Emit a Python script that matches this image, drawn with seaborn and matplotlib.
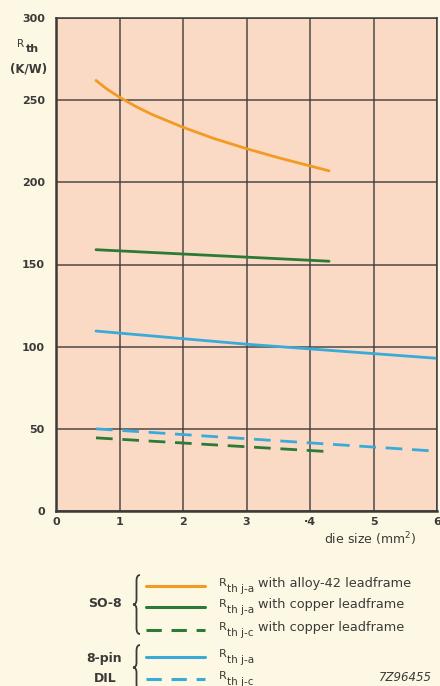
import matplotlib
matplotlib.use("Agg")
import matplotlib.pyplot as plt
from matplotlib.lines import Line2D
from matplotlib.path import Path
from matplotlib.patches import PathPatch
import pandas as pd
import seaborn as sns

# Thermal resistance vs die size
alloy_ja_x = [0.63, 0.8, 1.0, 1.25, 1.5, 2.0, 2.5, 3.0, 3.5, 4.0, 4.3]
alloy_ja_y = [262, 256.8, 251.8, 246.3, 241.5, 233.5, 226.5, 220.5, 215,
              210, 207]
copper_ja_x = [0.63, 4.3]
copper_ja_y = [159, 152]
copper_jc_x = [0.63, 4.35]
copper_jc_y = [44.5, 36]
dil_ja_x = [0.63, 3.0, 5.97]
dil_ja_y = [109.5, 101.5, 93]
dil_jc_x = [0.63, 5.95]
dil_jc_y = [50, 36.5]

x_ticks = [0, 1, 2, 3, 4, 5, 6]
x_tick_labels = ["0", "1", "2", "3", "·4", "5", "6"]
y_ticks = [0, 50, 100, 150, 200, 250, 300]

ORANGE = "#F29A22"
GREEN = "#2B7A35"
BLUE = "#3AAAD8"
INK = "#3c3a38"
PAPER = "#FCF8E4"
PEACH = "#FAD9C5"

sns.set_theme(style="white")
plt.rcParams["font.family"] = ["DejaVu Sans"]

W, H = 440, 686
fig = plt.figure(figsize=(W / 100, H / 100), dpi=100, facecolor=PAPER)


def fx(px):
    return px / W


def fy(py):
    return 1 - py / H


ax = fig.add_axes([fx(56), fy(511), fx(437) - fx(56), fy(18) - fy(511)])
ax.set_facecolor(PEACH)

series = [
    (alloy_ja_x, alloy_ja_y, ORANGE, "solid"),
    (copper_ja_x, copper_ja_y, GREEN, "solid"),
    (copper_jc_x, copper_jc_y, GREEN, "dashed"),
    (dil_ja_x, dil_ja_y, BLUE, "solid"),
    (dil_jc_x, dil_jc_y, BLUE, "dashed"),
]
for xs, ys, col, ls in series:
    df = pd.DataFrame({"x": xs, "y": ys})
    sns.lineplot(data=df, x="x", y="y", ax=ax, color=col, lw=2.0,
                 legend=False, zorder=3)
    if ls == "dashed":
        ax.lines[-1].set_dashes((6, 3.5))

ax.set_xlim(0, 6)
ax.set_ylim(0, 300)
ax.set_xticks(x_ticks)
ax.set_xticklabels(x_tick_labels)
ax.set_yticks(y_ticks)
ax.set_xlabel("")
ax.set_ylabel("")
ax.grid(True, color=INK, lw=1.1, alpha=0.9)
ax.set_axisbelow(True)
for side, s in ax.spines.items():
    s.set_visible(True)
    s.set_color(INK)
    s.set_linewidth(1.8 if side in ("left", "bottom") else 1.1)
ax.tick_params(axis="both", length=0, labelsize=8, colors=INK)
ax.tick_params(axis="x", pad=4)
ax.tick_params(axis="y", pad=8)
for lab in ax.get_xticklabels() + ax.get_yticklabels():
    lab.set_fontweight("bold")

# axis titles
fig.text(fx(17), fy(47), "R", fontsize=7.5, color=INK, ha="left",
         va="baseline")
fig.text(fx(26), fy(52), "th", fontsize=8, color=INK, fontweight="bold",
         ha="left", va="baseline")
fig.text(fx(28.5), fy(73), "(K/W)", fontsize=8.5, color=INK,
         fontweight="bold", ha="center", va="baseline")
fig.text(fx(324), fy(544), "die size (mm$^{\\mathregular{2}}$)", fontsize=9,
         color=INK, ha="left", va="baseline")


def brace(x, y_top, y_bot, w=7):
    """Left-facing curly brace in figure pixel coordinates."""
    ym = (y_top + y_bot) / 2
    xm = x + w / 2
    pts = [
        (x + w, y_top), (xm, y_top), (xm, y_top + 6),
        (xm, ym - 5),
        (xm, ym), (x, ym),
        (xm, ym), (xm, ym + 5),
        (xm, y_bot - 6),
        (xm, y_bot), (x + w, y_bot),
    ]
    codes = [Path.MOVETO, Path.CURVE3, Path.CURVE3, Path.LINETO,
             Path.CURVE3, Path.CURVE3, Path.CURVE3, Path.CURVE3,
             Path.LINETO, Path.CURVE3, Path.CURVE3]
    verts = [(fx(a), fy(b)) for a, b in pts]
    fig.add_artist(PathPatch(Path(verts, codes), transform=fig.transFigure,
                             fill=False, ec=INK, lw=1.3))


def legend_row(y, color, dashed, sub, rest):
    ln = Line2D([fx(146), fx(205)], [fy(y), fy(y)], transform=fig.transFigure,
                color=color, lw=2.2)
    if dashed:
        ln.set_dashes((5, 3.2))
    fig.add_artist(ln)
    fig.text(fx(219), fy(y), "R", fontsize=8, color=INK, ha="left",
             va="baseline")
    fig.text(fx(227), fy(y + 6), sub, fontsize=7.5, color=INK, ha="left",
             va="baseline")
    if rest:
        fig.text(fx(258), fy(y + 1), rest, fontsize=9.3, color=INK,
                 ha="left", va="baseline")


legend_row(586, ORANGE, False, "th j-a", "with alloy-42 leadframe")
legend_row(607, GREEN, False, "th j-a", "with copper leadframe")
legend_row(630, GREEN, True, "th j-c", "with copper leadframe")
legend_row(657, BLUE, False, "th j-a", "")
legend_row(679, BLUE, True, "th j-c", "")

brace(133, 575, 634)
brace(133, 645, 690)
fig.text(fx(105), fy(607), "SO-8", fontsize=9, fontweight="bold", color=INK,
         ha="center", va="baseline")
fig.text(fx(104), fy(662), "8-pin", fontsize=9, fontweight="bold", color=INK,
         ha="center", va="baseline")
fig.text(fx(105), fy(682), "DIL", fontsize=9, fontweight="bold", color=INK,
         ha="center", va="baseline")
fig.text(fx(432), fy(681), "7Z96455", fontsize=8.5, style="italic", color=INK,
         ha="right", va="baseline")

fig.savefig("out.png", dpi=100, facecolor=PAPER)
